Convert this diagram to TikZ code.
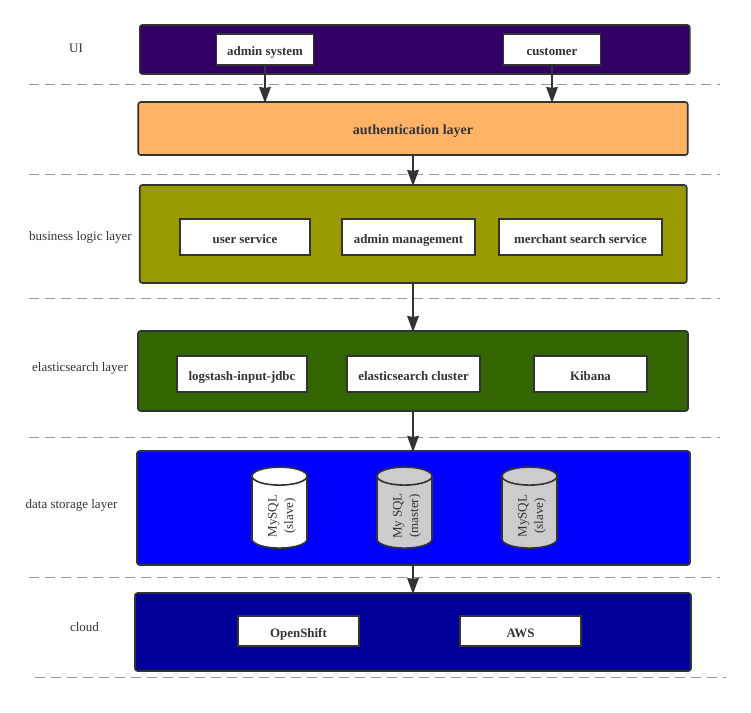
\documentclass[tikz,border=0pt]{standalone}
\usepackage{xcolor}
\usepackage{fontspec}
\setmainfont{Liberation Serif}
\usetikzlibrary{positioning,shapes.geometric,arrows.meta}
\newcommand{\dbspace}{\phantom{\rule{30pt}{30pt}}}

\begin{document}
\begin{tikzpicture}[x=1pt,y=-1pt,
	layerbox/.style={draw=lineColor,line width=1.6pt,rounded corners=2.5pt,inner sep=0pt,outer sep=0pt},
	itembox/.style={draw=lineColor,line width=1.8pt,fill=white,text=lineColor,inner sep=0pt,outer sep=0pt,text height=12.5pt,text depth=0pt,font=\bfseries\fontsize{12.9}{14}\selectfont,minimum height=31pt},
	sidelabel/.style={text=lineColor,inner sep=0pt,outer sep=0pt,text height=9pt,text depth=0pt,font=\fontsize{13}{14}\selectfont},
	dbcyl/.style={shape=cylinder,shape border rotate=90,draw=lineColor,line width=1.6pt,aspect=0.6,minimum width=55pt,minimum height=81pt,inner sep=0pt,outer sep=0pt},
	dblabel/.style={rotate=90,text=lineColor,inner sep=0pt,outer sep=0pt,align=center,font=\fontsize{13}{16.5}\selectfont},
	sepline/.style={draw=sepColor,line width=1pt,dash pattern=on 10pt off 6pt},
	flow/.style={draw=lineColor,line width=2.3pt,shorten >=-1pt,-{Stealth[length=16pt,width=11.5pt,inset=1pt]}}]
\definecolor{lineColor}{RGB}{51,51,51}
\definecolor{sepColor}{RGB}{153,153,153}
\definecolor{uiColor}{RGB}{51,0,102}
\definecolor{authColor}{RGB}{255,179,102}
\definecolor{bizColor}{RGB}{153,153,0}
\definecolor{esColor}{RGB}{51,102,0}
\definecolor{dataColor}{RGB}{0,0,255}
\definecolor{cloudColor}{RGB}{0,0,153}
\definecolor{slaveColor}{RGB}{204,204,204}
\path[use as bounding box,fill=white] (0,0) rectangle (751,712);

% dashed separators
\foreach \i/\sx/\ex/\sy in {a/29/720/84.4,b/29/720/174.4,c/29/720/298.4,d/29/720/437,e/29/720/577.4,f/35/726/677}{
	\coordinate (sepl\i) at (\sx,\sy);
	\coordinate (sepr\i) at (\ex,\sy);
	\path[sepline] (sepl\i) -- (sepr\i);
}

% layers
\node[layerbox,fill=uiColor,minimum width=550pt,minimum height=49pt] (uilayer) at (414.8,49.5) {};
\node[layerbox,fill=authColor,minimum width=549.5pt,minimum height=53pt,text=lineColor,text height=12pt,text depth=0pt,font=\bfseries\fontsize{14}{15}\selectfont] (authlayer) at (413,128.5) {authentication layer};
\node[layerbox,fill=bizColor,minimum width=547pt,minimum height=98pt] (bizlayer) at (413.2,234) {};
\node[layerbox,fill=esColor,minimum width=550pt,minimum height=80pt] (eslayer) at (413,371) {};
\node[layerbox,fill=dataColor,minimum width=553pt,minimum height=114pt] (datalayer) at (413.5,508) {};
\node[layerbox,fill=cloudColor,minimum width=556pt,minimum height=78pt] (cloudlayer) at (413,632) {};

% side labels
\node[sidelabel] (uilabel) at (76,47.5) {UI};
\node[sidelabel] (bizlabel) at (80.5,236) {business logic layer};
\node[sidelabel] (eslabel) at (80,367) {elasticsearch layer};
\node[sidelabel] (datalabel) at (71.5,504) {data storage layer};
\node[sidelabel] (cloudlabel) at (84.5,627) {cloud};

% services
\node[itembox,minimum width=97pt] (adminsys) at (265,49.5) {admin system};
\node[itembox,minimum width=97pt] (customer) at (552,49.5) {customer};
\node[itembox,minimum width=130pt,minimum height=36pt] (usersvc) at (245,237) {user service};
\node[itembox,minimum width=133pt,minimum height=36pt] (adminmgmt) at (408.5,237) {admin management};
\node[itembox,minimum width=163pt,minimum height=36pt] (merchant) at (580.5,237) {merchant search service};
\node[itembox,minimum width=130pt,minimum height=36pt] (logstash) at (242,374) {logstash-input-jdbc};
\node[itembox,minimum width=133pt,minimum height=36pt] (escluster) at (413.5,374) {elasticsearch cluster};
\node[itembox,minimum width=113pt,minimum height=36pt] (kibana) at (590.5,374) {Kibana};
\node[itembox,minimum width=121pt,minimum height=30pt] (openshift) at (298.5,631) {OpenShift};
\node[itembox,minimum width=121pt,minimum height=30pt] (aws) at (520.5,631) {AWS};

% databases
\node[dbcyl,fill=white] (slavea) at (279.5,512.5) {\dbspace};
\node[dbcyl,fill=slaveColor] (master) at (404.5,512.5) {\dbspace};
\node[dbcyl,fill=slaveColor] (slaveb) at (529.5,512.5) {\dbspace};
\node[dblabel] (slavealabel) at (282,516) {MySQL\\(slave)};
\node[dblabel] (masterlabel) at (407,516) {My SQL\\(master)};
\node[dblabel] (slaveblabel) at (532,516) {MySQL\\(slave)};

% flows
\draw[flow] (adminsys.south) -- (adminsys.south |- authlayer.north);
\draw[flow] (customer.south) -- (customer.south |- authlayer.north);
\draw[flow] (authlayer.south) -- (bizlayer.north -| authlayer.south);
\draw[flow] (authlayer.south |- bizlayer.south) -- (authlayer.south |- eslayer.north);
\draw[flow] (authlayer.south |- eslayer.south) -- (authlayer.south |- datalayer.north);
\draw[flow] (authlayer.south |- datalayer.south) -- (authlayer.south |- cloudlayer.north);
\end{tikzpicture}
\end{document}
